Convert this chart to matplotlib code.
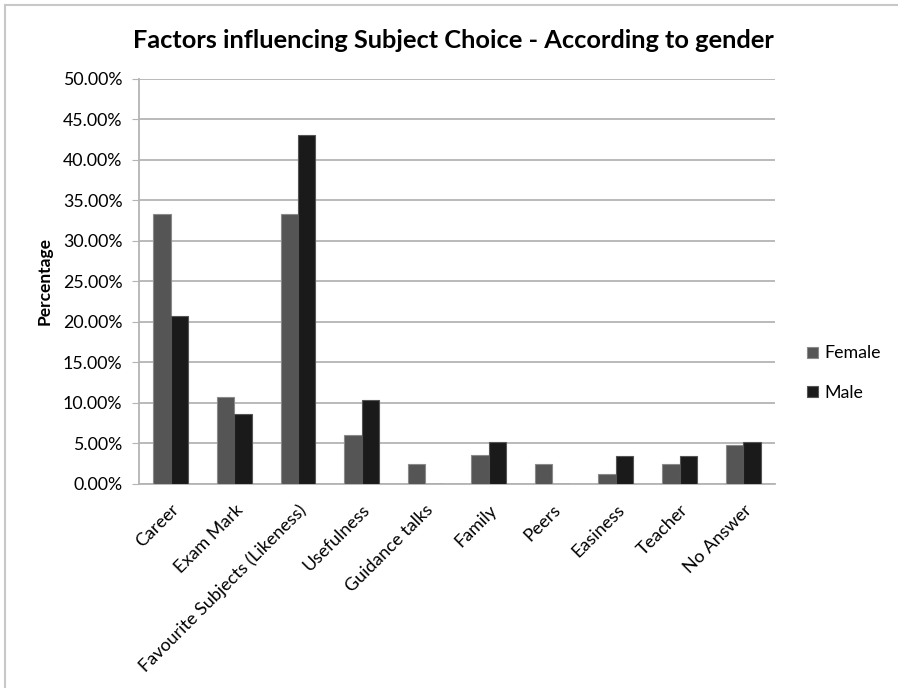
import numpy as np
import matplotlib
matplotlib.use("Agg")
import matplotlib.pyplot as plt
from matplotlib.lines import Line2D
from matplotlib.ticker import FuncFormatter

plt.rcParams['font.family'] = ['Lato', 'DejaVu Sans']

categories = ["Career", "Exam Mark", "Favourite Subjects (Likeness)", "Usefulness",
              "Guidance talks", "Family", "Peers", "Easiness", "Teacher", "No Answer"]
female = [33.33, 10.71, 33.33, 5.95, 2.38, 3.57, 2.38, 1.19, 2.38, 4.76]
male = [20.69, 8.62, 43.10, 10.34, 0.0, 5.17, 0.0, 3.45, 3.45, 5.17]
series_names = ["Female", "Male"]
y_ticks = np.arange(0, 50.01, 5)

fig = plt.figure(figsize=(8.98, 6.88), dpi=100)
ax = fig.add_axes([0.1548, 0.2972, 0.7082, 0.588])

x = np.arange(len(categories))
w = 0.275
ax.bar(x - w / 2, female, w, color="#555555", edgecolor="#8a8a8a", linewidth=0.8,
       label=series_names[0], zorder=3)
ax.bar(x + w / 2, male, w, color="#1a1a1a", edgecolor="#555555", linewidth=0.8,
       label=series_names[1], zorder=3)

ax.set_xlim(-0.5, len(categories) - 0.5)
ax.set_ylim(0, 50)
ax.set_yticks(y_ticks)
ax.yaxis.set_major_formatter(FuncFormatter(lambda v, p: "%.2f%%" % v))
ax.grid(axis="y", color="#b4b4b4", linewidth=1.3, zorder=0)
ax.set_axisbelow(True)

ax.set_xticks(x)
ax.set_xticklabels(categories, rotation=45, ha="right", rotation_mode="anchor", fontsize=13)
ax.tick_params(axis="x", length=0, pad=13)
ax.tick_params(axis="y", length=5, color="#b4b4b4", labelsize=12.8, pad=7)

for s in ["top", "right"]:
    ax.spines[s].set_visible(False)
ax.spines["left"].set_color("#b4b4b4")
ax.spines["bottom"].set_color("#b4b4b4")
ax.spines["left"].set_linewidth(1.3)
ax.spines["bottom"].set_linewidth(1.3)

fig.text(453 / 898, 1 - 41 / 688, "Factors influencing Subject Choice - According to gender",
         ha="center", va="center", fontsize=18.3, fontweight="bold")
fig.text(45 / 898, 1 - 281 / 688, "Percentage", rotation=90, ha="center", va="center",
         fontsize=12.5, fontweight="bold")

ax.legend(loc="center left", bbox_to_anchor=(791 / 898, 1 - 373 / 688),
          bbox_transform=fig.transFigure, frameon=False, fontsize=12.8,
          handlelength=0.6, handleheight=0.6, handletextpad=0.35, labelspacing=1.3)

fig.add_artist(Line2D([5 / 898, 1], [1 - 4.5 / 688, 1 - 4.5 / 688], color="#c8c8c8", lw=1.5))
fig.add_artist(Line2D([5 / 898, 5 / 898], [0, 1 - 4.5 / 688], color="#c8c8c8", lw=1.5))

fig.savefig("out.png", dpi=100)
